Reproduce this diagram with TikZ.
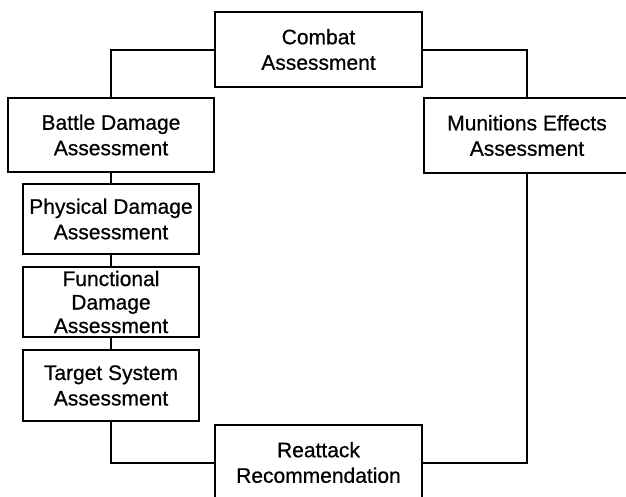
\documentclass[tikz,border=0pt]{standalone}
\usepackage{fontspec}
% a slightly heavier face for the box labels
\setmainfont{Liberation Sans}[BoldFont={Liberation Sans}, BoldFeatures={FakeBold=0.6}]
\begin{document}
\begin{tikzpicture}[x=1pt,y=-1pt,
  box/.style={draw, line width=1.3pt, inner sep=0pt, align=center,
    font=\fontsize{21}{25.5}\selectfont\bfseries},
  wide/.style={box, minimum width=207pt, minimum height=75pt},
  narrow/.style={box, minimum width=176pt, minimum height=70pt},
  link/.style={draw, line width=2pt}]
\useasboundingbox (0,0) rectangle (626,496);
\fill[white] (0,0) rectangle (626,496);

% top and bottom of the cycle
\node[wide] (combat) at (318.5,49.5) {Combat\\Assessment};
\node[wide] (reattack) at (318.5,462.5) {Reattack\\Recommendation};

% the two assessment branches
\node[wide, minimum width=206pt, minimum height=74pt] (battle) at (111,135) {Battle Damage\\Assessment};
\node[wide, minimum width=206pt] (munitions) at (527,135.5) {Munitions Effects\\Assessment};

% components of battle damage assessment
\node[narrow] (physical) at (111,219) {Physical Damage\\Assessment};
\node[narrow, font=\fontsize{21}{23.5}\selectfont\bfseries] (functional) at (111,302) {Functional\\Damage\\Assessment};
\node[narrow, minimum height=71pt] (target) at (111,385.5) {Target System\\Assessment};

% connectors
\draw[link] (combat.west) -| (battle.north);
\draw[link] (combat.east) -| (munitions.north);
\draw[link] (battle.south) -- (physical.north);
\draw[link] (physical.south) -- (functional.north);
\draw[link] (functional.south) -- (target.north);
\draw[link] (target.south) |- (reattack.west);
\draw[link] (reattack.east) -| (munitions.south);
\end{tikzpicture}
\end{document}
